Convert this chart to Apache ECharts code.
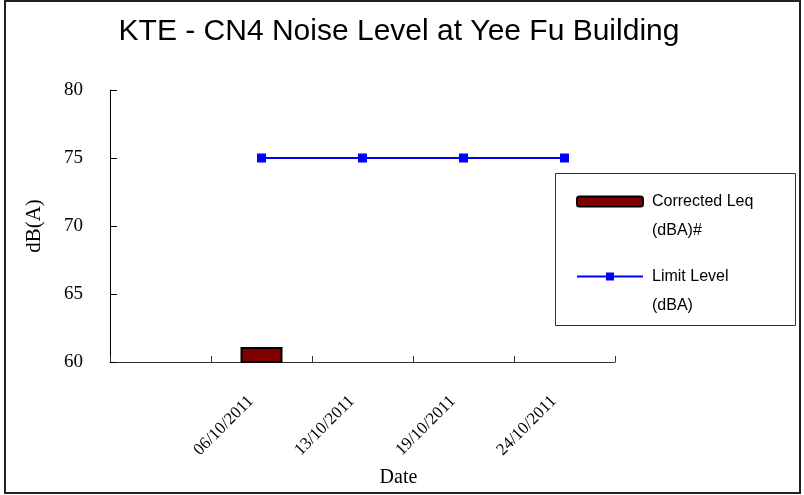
<!DOCTYPE html>
<html>
<head>
<meta charset="utf-8">
<script src="https://cdn.jsdelivr.net/npm/echarts@6/dist/echarts.min.js"></script>
<style>
  html, body { margin: 0; padding: 0; background: #fff; }
  #chart { width: 804px; height: 495px; }
</style>
</head>
<body>
<div id="chart"></div>
<script>
// 日期 (first slot is empty, like the original sheet)
const dates = ['', '06/10/2011', '13/10/2011', '19/10/2011', '24/10/2011'];
const correctedLeq = [null, 61.1, null, null, null];
const limitLevel = [null, 75, 75, 75, 75];
const yTicks = [60, 65, 70, 75, 80];

const serif = '"Liberation Serif", "Times New Roman", serif';
const sans = '"Liberation Sans", Arial, sans-serif';

let myChart = echarts.init(document.getElementById('chart'));
let option = {
  animation: false,
  title: {
    text: 'KTE - CN4 Noise Level at Yee Fu Building',
    left: 394,
    textAlign: 'center',
    top: 12,
    textStyle: { fontFamily: sans, fontSize: 30, fontWeight: 'normal', color: '#000' }
  },
  graphic: [
    {
      type: 'rect',
      shape: { x: 5, y: 1, width: 795, height: 492 },
      style: { fill: 'none', stroke: '#222', lineWidth: 2 },
      silent: true
    },
    {
      type: 'rect',
      shape: { x: 555.5, y: 173.5, width: 240, height: 152 },
      style: { fill: '#fff', stroke: '#333', lineWidth: 1 },
      silent: true,
      z: 0
    }
  ],
  legend: {
    orient: 'vertical',
    left: 576,
    top: 158,
    padding: 0,
    itemWidth: 66,
    itemHeight: 10,
    itemGap: -12,
    data: ['Corrected Leq\n(dBA)#', 'Limit Level\n(dBA)'],
    // empty first line so the icon sits next to the first text line
    formatter: name => ' \n' + name,
    textStyle: {
      fontFamily: sans,
      fontSize: 16,
      color: '#000',
      lineHeight: 29,
      padding: [0, 0, 0, 4]
    },
    z: 5
  },
  grid: {
    left: 110,
    top: 90,
    right: 189,
    bottom: 133,
    containLabel: false,
    outerBoundsMode: 'none'
  },
  xAxis: {
    type: 'category',
    data: dates,
    name: 'Date',
    nameLocation: 'middle',
    nameGap: 106,
    nameTextStyle: { fontFamily: serif, fontSize: 20, color: '#000', padding: [0, 0, 0, 72] },
    axisLine: { lineStyle: { color: '#333', width: 1 } },
    axisTick: { show: true, inside: true, length: 6, lineStyle: { color: '#333' } },
    axisLabel: {
      rotate: 45,
      interval: 0,
      fontFamily: serif,
      fontSize: 17,
      color: '#000',
      margin: 26,
      padding: [0, 15, 0, 0]
    }
  },
  yAxis: {
    type: 'value',
    min: 60,
    max: 80,
    interval: 5,
    name: 'dB(A)',
    nameLocation: 'middle',
    nameGap: 65,
    nameTextStyle: { fontFamily: serif, fontSize: 21, color: '#000' },
    axisLine: { show: true, lineStyle: { color: '#000', width: 1 } },
    axisTick: { show: true, inside: true, length: 7, lineStyle: { color: '#000' } },
    splitLine: { show: false },
    axisLabel: {
      fontFamily: serif,
      fontSize: 19,
      color: '#000',
      margin: 27,
      formatter: v => (yTicks.indexOf(v) >= 0 ? String(v) : '')
    }
  },
  series: [
    {
      name: 'Corrected Leq\n(dBA)#',
      type: 'bar',
      data: correctedLeq,
      barWidth: 42,
      itemStyle: { color: '#800000', borderColor: '#000', borderWidth: 2 }
    },
    {
      name: 'Limit Level\n(dBA)',
      type: 'line',
      data: limitLevel,
      symbol: 'rect',
      symbolSize: 9,
      lineStyle: { color: '#0000ff', width: 2 },
      itemStyle: { color: '#0000ff' },
      z: 3
    }
  ]
};
myChart.setOption(option);
</script>
</body>
</html>
